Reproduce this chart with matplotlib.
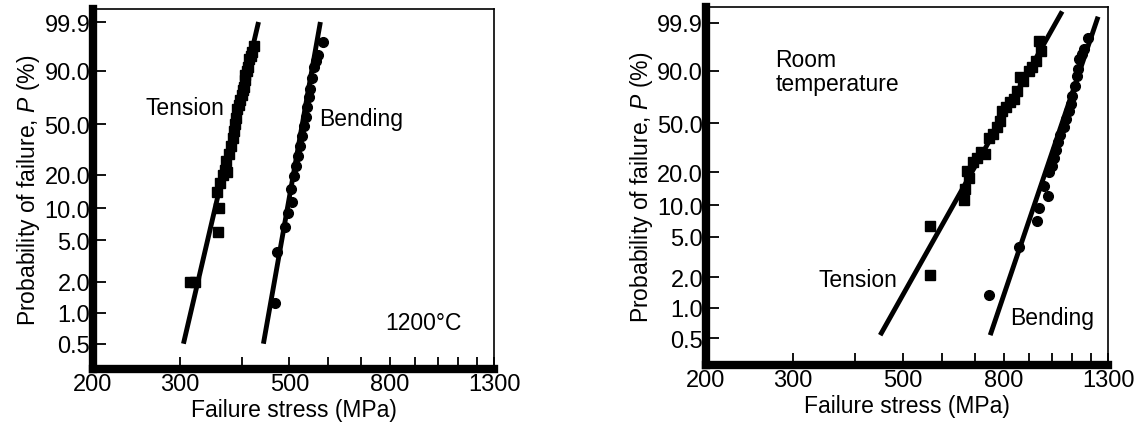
import numpy as np
import matplotlib
matplotlib.use("Agg")
import matplotlib.pyplot as plt
from matplotlib.ticker import NullFormatter

plt.rcParams["font.family"] = ["Liberation Sans", "DejaVu Sans"]
plt.rcParams["mathtext.fontset"] = "custom"
plt.rcParams["mathtext.it"] = "Liberation Sans:italic"
plt.rcParams["mathtext.rm"] = "Liberation Sans"

# axis ticks
x_ticks = [200, 300, 500, 800, 1300]
x_minor = [400, 600, 700, 900, 1000, 1100, 1200]
p_ticks = [0.5, 1.0, 2.0, 5.0, 10.0, 20.0, 50.0, 90.0, 99.9]
p_labels = ["0.5", "1.0", "2.0", "5.0", "10.0", "20.0", "50.0", "90.0", "99.9"]

# 1200 C - tension (squares)
ht_tension_stress = [314, 322, 358, 360, 357, 362, 366, 370, 374, 372, 378, 380, 384, 386, 388,
                     390, 392, 396, 398, 400, 402, 404, 406, 407, 410, 412, 414, 418, 420, 424]
ht_tension_prob = [2.0, 2.0, 6.0, 10.0, 14.0, 17.0, 20.0, 22.0, 21.0, 26.0, 30.0, 35.0, 40.0, 45.0, 50.0,
                   55.0, 62.0, 66.0, 70.0, 74.0, 78.0, 80.0, 85.0, 88.0, 90.0, 92.0, 95.0, 96.0, 97.0, 98.2]
ht_tension_fit_stress = [305, 433]
ht_tension_fit_prob = [0.5, 99.9]

# 1200 C - bending (circles)
ht_bending_stress = [468, 472, 489, 497, 503, 506, 510, 515, 520, 526, 531, 536, 540, 544, 548,
                     551, 555, 560, 566, 572, 586]
ht_bending_prob = [1.25, 3.9, 6.6, 9.1, 15.0, 11.5, 19.4, 23.7, 29.0, 34.5, 41.0, 48.7, 56.0, 64.0, 72.0,
                   78.5, 86.0, 92.0, 94.3, 96.3, 98.8]
ht_bending_fit_stress = [443, 578]
ht_bending_fit_prob = [0.5, 99.9]

# room temperature - tension (squares)
rt_tension_stress = [567, 567, 664, 667, 673, 680, 692, 705, 720, 734, 748, 760, 776, 785, 792,
                     808, 824, 838, 852, 862, 875, 899, 912, 929, 944, 952]
rt_tension_prob = [2.1, 6.4, 11.1, 14.3, 20.4, 18.0, 24.9, 26.5, 30.0, 29.1, 38.5, 42.0, 47.2, 52.0, 59.5,
                   63.0, 67.7, 70.0, 76.7, 86.6, 84.0, 90.0, 92.0, 94.5, 98.9, 97.2]
rt_tension_fit_stress = [450, 1050]
rt_tension_fit_prob = [0.534, 99.987]

# room temperature - bending (circles)
rt_bending_stress = [748, 859, 934, 944, 965, 982, 989, 1000, 1013, 1020, 1028, 1040, 1059, 1070,
                     1083, 1092, 1101, 1112, 1127, 1132, 1136, 1150, 1163, 1183]
rt_bending_prob = [1.33, 4.0, 7.0, 9.4, 15.2, 12.1, 20.3, 23.0, 26.5, 31.0, 36.2, 41.0, 47.2, 53.0,
                   59.5, 66.0, 72.8, 80.0, 87.2, 91.0, 95.2, 96.5, 97.8, 99.2]
rt_bending_fit_stress = [751, 1241]
rt_bending_fit_prob = [0.534, 99.964]


def weibull_fwd(p):
    p = np.clip(np.asarray(p, dtype=float), 1e-6, 100 - 1e-6)
    return np.log(-np.log(1 - p / 100))


def weibull_inv(w):
    return 100 * (1 - np.exp(-np.exp(w)))


def style_axes(ax, ylim):
    ax.set_xscale("log")
    ax.set_yscale("function", functions=(weibull_fwd, weibull_inv))
    ax.set_xlim(200, 1300)
    ax.set_ylim(*ylim)
    ax.set_xticks(x_ticks, [str(t) for t in x_ticks])
    ax.set_xticks(x_minor, minor=True)
    ax.xaxis.set_minor_formatter(NullFormatter())
    ax.set_yticks(p_ticks, p_labels)
    ax.tick_params(axis="x", which="both", direction="in", length=9, width=1.3,
                   pad=3, labelsize=17)
    ax.tick_params(axis="y", which="major", direction="in", length=9, width=1.3,
                   pad=2, labelsize=17)
    ax.tick_params(axis="y", which="minor", left=False)
    for side in ["left", "bottom"]:
        ax.spines[side].set_linewidth(6)
    for side in ["top", "right"]:
        ax.spines[side].set_linewidth(1.2)
    ax.set_xlabel("Failure stress (MPa)", fontsize=16.5, labelpad=2)
    ax.set_ylabel(r"Probability of failure, $P$ (%)", fontsize=16.5, labelpad=2)


fig = plt.figure(figsize=(11.36, 4.27), dpi=100)
ax1 = fig.add_axes([0.0819, 0.1340, 0.3530, 0.8421])
ax2 = fig.add_axes([0.6215, 0.1429, 0.3539, 0.8384])

# left: 1200 C
ax1.plot(ht_tension_fit_stress, ht_tension_fit_prob, color="black", lw=3.5, solid_capstyle="butt")
ax1.plot(ht_bending_fit_stress, ht_bending_fit_prob, color="black", lw=3.5, solid_capstyle="butt")
ax1.plot(ht_tension_stress, ht_tension_prob, "s", color="black", ms=7)
ax1.plot(ht_bending_stress, ht_bending_prob, "o", color="black", ms=7)
style_axes(ax1, (0.285, 99.99))
ax1.text(0.130, 0.728, "Tension", transform=ax1.transAxes, fontsize=16.5, va="center")
ax1.text(0.564, 0.695, "Bending", transform=ax1.transAxes, fontsize=16.5, va="center")
ax1.text(0.728, 0.130, "1200°C", transform=ax1.transAxes, fontsize=16.5, va="center")

# right: room temperature
ax2.plot(rt_tension_fit_stress, rt_tension_fit_prob, color="black", lw=3.5, solid_capstyle="butt")
ax2.plot(rt_bending_fit_stress, rt_bending_fit_prob, color="black", lw=3.5, solid_capstyle="butt")
ax2.plot(rt_tension_stress, rt_tension_prob, "s", color="black", ms=7)
ax2.plot(rt_bending_stress, rt_bending_prob, "o", color="black", ms=7)
style_axes(ax2, (0.27, 99.995))
ax2.text(0.172, 0.821, "Room\ntemperature", transform=ax2.transAxes, fontsize=16.5,
         va="center", linespacing=1.05)
ax2.text(0.281, 0.240, "Tension", transform=ax2.transAxes, fontsize=16.5, va="center")
ax2.text(0.756, 0.134, "Bending", transform=ax2.transAxes, fontsize=16.5, va="center")

fig.savefig("out.png", dpi=100)
